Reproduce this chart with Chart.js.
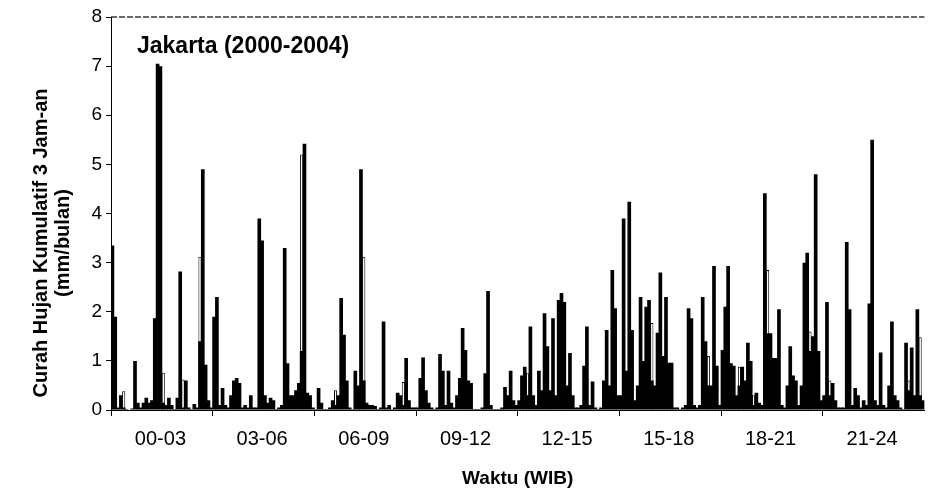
<!DOCTYPE html>
<html><head><meta charset="utf-8">
<script src="https://cdn.jsdelivr.net/npm/chart.js@4.4.0/dist/chart.umd.min.js"></script>
<style>
html,body{margin:0;padding:0;background:#fff;overflow:hidden;width:930px;height:493px}
#c{display:block}
</style>
</head><body>
<canvas id="c" width="934" height="493" style="width:934px;height:493px"></canvas>
<script>
// ---- data ----
const timeLabels = ['00-03','03-06','06-09','09-12','12-15','15-18','18-21','21-24'];
const plotTitle = 'Jakarta (2000-2004)';
const yTitle = ['Curah Hujan Kumulatif 3 Jam-an', '(mm/bulan)'];
const xTitle = 'Waktu (WIB)';

const rain0003 = [3.35,1.9,0.05,0.3,0.05,0.02,0,0.03,1.0,0.15,0.05,0.15,0.25,0.15,0.2,1.87,7.05,7.0,0.15,0.1,0.25,0.1,0.02,0.25,2.82,0.05,0.6,0.05,0.02,0.12,0.05,1.4,4.9,0.92,0.2,0.05];
const rain0306 = [1.9,2.3,0.1,0.45,0.1,0.05,0.3,0.6,0.65,0.55,0.05,0.1,0.05,0.3,0.05,0.05,3.9,3.45,0.3,0.15,0.25,0.2,0.02,0.05,0.1,3.3,0.95,0.3,0.3,0.4,0.55,1.2,5.42,0.35,0.3,0.05];
const rain0609 = [0.02,0.45,0.15,0.02,0.02,0.05,0.2,0.1,0.3,2.28,1.53,0.6,0.05,0.02,0.8,0.5,4.9,0.6,0.15,0.1,0.1,0.08,0.02,0.05,1.8,0.05,0.1,0.02,0.05,0.35,0.3,0.1,1.06,0.2,0.05,0.05];
const rain0912 = [0.05,0.65,1.07,0.4,0.15,0.05,0.02,0.05,1.14,0.8,0.1,0.8,0.15,0.05,0.3,0.65,1.67,1.22,0.6,0.55,0.02,0.02,0.02,0.05,0.75,2.42,0.1,0.02,0.02,0.02,0.05,0.47,0.3,0.8,0.2,0.1];
const rain1215 = [0.2,0.7,0.88,0.3,1.7,0.3,0.1,0.8,0.4,1.97,1.3,0.4,1.87,0.3,2.24,2.38,2.2,0.5,1.16,0.3,0.05,0.05,0.1,0.9,1.7,0.1,0.58,0.05,0.02,0.05,0.6,1.63,0.5,2.85,2.07,0.3];
const rain1518 = [0.3,3.9,0.8,4.24,1.63,0.2,0.5,2.3,1.0,2.1,2.24,0.6,0.5,1.57,2.8,1.1,2.3,0.96,0.96,0.05,0.05,0.02,0.05,0.1,2.07,1.87,0.1,0.05,0.1,2.3,1.4,0.5,0.5,2.93,0.9,0.1];
const rain1821 = [1.22,2.1,2.93,0.95,0.9,0.3,0.5,0.88,0.6,1.37,1.0,0.1,0.35,0.15,0.1,4.41,1.56,1.56,1.06,1.06,2.05,0.1,0.05,0.5,1.3,0.7,0.6,0.1,0.5,3.0,3.2,1.2,1.5,4.8,1.2,0.2];
const rain2124 = [0.3,2.2,0.3,0.55,0.2,0.05,0.05,0.05,3.42,2.05,0.1,0.45,0.3,0.05,0.2,0.1,2.17,5.5,0.2,0.1,1.17,0.1,0.05,0.5,1.8,0.3,0.2,0.05,0.02,1.37,0.4,1.27,0.3,2.05,0.3,0.2];

// hollow (outlined) bars: [group index, bar index in group, value]
const outlineBars = [[0,4,0.38],[0,18,0.76],[0,25,0.62],[0,31,3.12],[1,31,5.2],[2,7,0.4],[2,17,3.12],[2,31,0.57],[4,3,0.75],[5,11,1.77],[5,31,1.1],[6,6,0.88],[6,11,0.3],[6,16,2.85],[6,31,1.6],[7,2,0.6],[7,30,0.6],[7,34,1.48]];

const yMin = 0, yMax = 8, yStep = 1;

// ---- build ----
const groups = [rain0003, rain0306, rain0609, rain0912, rain1215, rain1518, rain1821, rain2124];
const perGroup = rain0003.length;
const labels = [];
const solid = [];
groups.forEach((g, gi) => g.forEach((v, bi) => { labels.push(timeLabels[gi] + ' ' + (bi + 1)); solid.push(v); }));
const hollow = solid.map(() => null);
outlineBars.forEach(([gi, bi, v]) => { hollow[gi * perGroup + bi] = v; });

const FONT = '"Liberation Sans", Arial, Helvetica, sans-serif';

const annot = {
  id: 'annot',
  afterDraw(chart) {
    const {ctx, chartArea} = chart;
    const yS = chart.scales.y;
    const yTop = yS.getPixelForValue(yMax);
    ctx.save();
    ctx.strokeStyle = '#3a3a3a';
    ctx.lineWidth = 1.5;
    ctx.setLineDash([6, 2]);
    ctx.beginPath();
    ctx.moveTo(chartArea.left, yTop);
    ctx.lineTo(chartArea.right, yTop);
    ctx.stroke();
    ctx.setLineDash([]);
    ctx.fillStyle = '#000';
    ctx.textBaseline = 'middle';
    ctx.textAlign = 'left';
    ctx.font = 'bold 23px ' + FONT;
    ctx.fillText(plotTitle, chartArea.left + 26, chartArea.top + 30);
    ctx.font = 'bold 20px ' + FONT;
    ctx.textAlign = 'center';
    const xs = [41, 63];
    yTitle.forEach((t, i) => {
      ctx.save();
      ctx.translate(xs[i], 243);
      ctx.rotate(-Math.PI / 2);
      ctx.fillText(t, 0, 0);
      ctx.restore();
    });
    ctx.restore();
  }
};

new Chart(document.getElementById('c'), {
  type: 'bar',
  data: {
    labels: labels,
    datasets: [
      {
        label: 'curah hujan',
        data: solid,
        backgroundColor: '#000',
        borderWidth: 0,
        barPercentage: 1.3,
        categoryPercentage: 1,
        grouped: false,
        order: 0
      },
      {
        label: 'outline',
        data: hollow,
        backgroundColor: '#fff',
        borderColor: '#000',
        borderWidth: 1,
        barPercentage: 1.1,
        categoryPercentage: 1,
        grouped: false,
        order: 1
      }
    ]
  },
  options: {
    responsive: false,
    maintainAspectRatio: false,
    devicePixelRatio: 1,
    animation: false,
    layout: {padding: {left: 0, right: 2, top: 17, bottom: 0}},
    plugins: {legend: {display: false}, tooltip: {enabled: false}, title: {display: false}},
    scales: {
      x: {
        type: 'category',
        grid: {
          display: true,
          drawOnChartArea: false,
          drawTicks: true,
          tickLength: 6,
          offset: true,
          color: (c) => (c.index % perGroup === 0 ? '#000' : 'rgba(0,0,0,0)'),
          lineWidth: 1
        },
        border: {display: true, color: '#000', width: 1},
        ticks: {
          autoSkip: false,
          maxRotation: 0,
          minRotation: 0,
          padding: 11,
          color: '#000',
          font: {family: FONT, size: 20},
          callback: function (val, index) {
            return index % perGroup === 17 ? timeLabels[Math.floor(index / perGroup)] : '';
          }
        },
        title: {
          display: true,
          text: xTitle,
          color: '#000',
          font: {family: FONT, size: 19, weight: 'bold'},
          padding: {top: 0, bottom: 3}
        },
        afterFit: (s) => { s.height = 83; }
      },
      y: {
        min: yMin,
        max: yMax,
        ticks: {stepSize: yStep, padding: 4, color: '#000', font: {family: FONT, size: 19}},
        grid: {display: true, drawOnChartArea: false, drawTicks: true, tickLength: 5, color: '#000'},
        border: {display: true, color: '#000', width: 1},
        afterFit: (s) => { s.width = 111; }
      }
    }
  },
  plugins: [annot]
});
</script>
</body></html>
